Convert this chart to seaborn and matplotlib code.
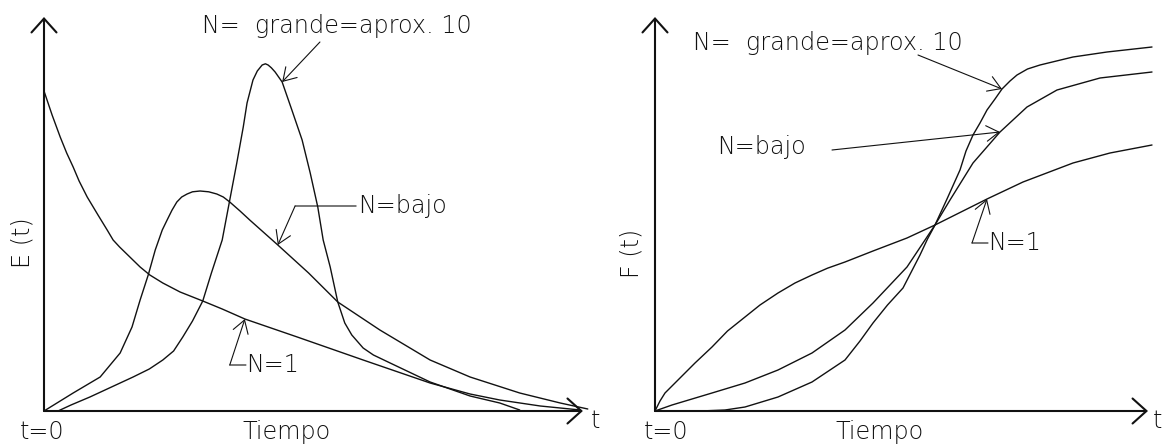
import numpy as np
import pandas as pd
import matplotlib
matplotlib.use("Agg")
import matplotlib.pyplot as plt
import seaborn as sns

# ---- Residence-time distribution curves (time in arbitrary units 0..10) ----
# E(t): exit-age distribution
e_n1_t = [0.00, 0.15, 0.30, 0.42, 0.54, 0.65, 0.80, 1.00, 1.17, 1.28, 1.40, 1.59, 1.78, 1.96, 2.20, 2.52, 2.94,
          3.30, 3.72, 4.69, 5.91, 7.15, 7.89, 8.44, 9.19, 9.93]
e_n1_v = [0.80, 0.74, 0.685, 0.645, 0.61, 0.575, 0.535, 0.49, 0.4525, 0.4275, 0.41, 0.385, 0.36, 0.34, 0.32,
          0.2975, 0.275, 0.255, 0.23, 0.185, 0.1275, 0.07, 0.0425, 0.0275, 0.0125, 0.0025]

e_bajo_t = [0.00, 0.54, 1.04, 1.41, 1.63, 1.78, 1.93, 2.06, 2.19, 2.28, 2.37, 2.46, 2.55, 2.65, 2.75, 2.89, 3.05,
            3.20, 3.32, 3.44, 3.63, 3.81, 4.33, 4.90, 5.44, 6.22, 7.15, 7.89, 8.81, 9.56, 10.07]
e_bajo_v = [0.00, 0.045, 0.085, 0.145, 0.21, 0.2775, 0.34, 0.4025, 0.4525, 0.4775, 0.502, 0.5225, 0.535, 0.5425,
            0.548, 0.55, 0.548, 0.5425, 0.535, 0.5225, 0.50, 0.4775, 0.415, 0.345, 0.2725, 0.2025, 0.1275,
            0.085, 0.045, 0.02, 0.005]

e_grande_t = [0.26, 0.50, 0.85, 1.25, 1.65, 1.95, 2.20, 2.40, 2.57, 2.75, 2.94, 3.10, 3.30, 3.44, 3.57, 3.69,
              3.76, 3.87, 3.95, 4.04, 4.10, 4.15, 4.21, 4.28, 4.41, 4.59, 4.78, 4.93, 5.07, 5.17, 5.30, 5.44,
              5.57, 5.70, 5.91, 6.10, 6.41, 7.15, 7.89, 8.44, 8.81]
e_grande_v = [0.00, 0.015, 0.035, 0.06, 0.085, 0.105, 0.1275, 0.15, 0.185, 0.225, 0.275, 0.345, 0.4275, 0.5275,
              0.62, 0.71, 0.77, 0.8275, 0.85, 0.865, 0.868, 0.865, 0.858, 0.8475, 0.8225, 0.7525, 0.6775, 0.595,
              0.51, 0.4275, 0.36, 0.2725, 0.22, 0.19, 0.1575, 0.14, 0.12, 0.0725, 0.0375, 0.02, 0.0025]

# F(t): cumulative distribution
f_n1_t = [0.00, 0.10, 0.20, 0.46, 0.80, 1.14, 1.45, 1.80, 2.10, 2.46, 2.80, 3.14, 3.45, 3.80, 4.36, 5.04, 5.60,
          6.16, 6.64, 7.36, 8.36, 9.10, 9.94]
f_n1_v = [0.00, 0.025, 0.045, 0.0775, 0.12, 0.16, 0.20, 0.235, 0.265, 0.295, 0.32, 0.34, 0.357, 0.3725, 0.40,
          0.4325, 0.465, 0.50, 0.53, 0.5725, 0.62, 0.645, 0.665]

f_bajo_t = [0.00, 0.34, 1.14, 1.80, 2.46, 3.14, 3.80, 4.36, 5.04, 5.60, 5.90, 6.36, 6.90, 7.44, 8.04, 8.90, 9.94]
f_bajo_v = [0.00, 0.015, 0.045, 0.07, 0.1025, 0.145, 0.2025, 0.27, 0.36, 0.465, 0.5275, 0.62, 0.6975, 0.76,
            0.8025, 0.8325, 0.8475]

f_grande_t = [0.00, 0.90, 1.40, 1.80, 2.46, 3.14, 3.80, 4.10, 4.36, 4.65, 4.96, 5.30, 5.45, 5.60, 5.84, 6.10,
              6.22, 6.36, 6.50, 6.64, 6.80, 6.94, 7.10, 7.24, 7.45, 7.70, 8.36, 9.04, 9.94]
f_grande_v = [0.00, 0.00, 0.0025, 0.01, 0.035, 0.0725, 0.1275, 0.175, 0.22, 0.265, 0.3075, 0.39, 0.43, 0.465,
              0.53, 0.6025, 0.65, 0.69, 0.72, 0.7525, 0.78, 0.805, 0.825, 0.84, 0.855, 0.865, 0.885, 0.8975, 0.91]

series_names = ["N=1", "N=bajo", "N=grande"]
label_grande = "N=  grande=aprox. 10"
label_bajo = "N=bajo"
label_n1 = "N=1"
x_label = "Tiempo"
origin_label = "t=0"
axis_end_label = "t"
e_label = "E (t)"
f_label = "F (t)"


def long_frame(curves):
    rows = []
    for name, (ts, vs) in zip(series_names, curves):
        for t, v in zip(ts, vs):
            rows.append({"serie": name, "t": t, "valor": v})
    return pd.DataFrame(rows)


df_e = long_frame([(e_n1_t, e_n1_v), (e_bajo_t, e_bajo_v), (e_grande_t, e_grande_v)])
df_f = long_frame([(f_n1_t, f_n1_v), (f_bajo_t, f_bajo_v), (f_grande_t, f_grande_v)])

sns.set_style("white")
plt.rcParams["font.family"] = ["DejaVu Sans"]

W, H = 1162, 444
fig = plt.figure(figsize=(W / 100, H / 100), dpi=100)
fig.patch.set_facecolor("white")

ink = "#111111"
fs = 17.2
txt = dict(color=ink, fontsize=fs, clip_on=False, fontweight="light")
leader = dict(arrowstyle="-", color=ink, lw=0.8, shrinkA=0, shrinkB=0)
head = dict(arrowstyle="->,head_length=0.45,head_width=0.28", color=ink, lw=0.8,
            shrinkA=0, shrinkB=0, mutation_scale=20)
axis_arrow = dict(arrowstyle="->,head_length=0.5,head_width=0.45", color=ink, lw=1.5,
                  shrinkA=0, shrinkB=0, mutation_scale=20)


def make_axes(left_px, width_px):
    ax = fig.add_axes([left_px / W, (H - 411) / H, width_px / W, 400 / H])
    ax.set_xlim(0, 10)
    ax.set_ylim(0, 1)
    ax.set_axis_off()
    return ax


def draw_panel(ax, df, y_end, x_end, tick_t, origin_t, ylab, ylab_pos):
    sns.lineplot(data=df, x="t", y="valor", hue="serie", units="serie", estimator=None,
                 sort=False, palette={n: ink for n in series_names}, legend=False,
                 linewidth=1.0, ax=ax)
    for ln in ax.lines:
        ln.set_clip_on(False)
        ln.set_solid_joinstyle("round")
    # axes with arrowheads
    ax.annotate("", xy=(0, y_end), xytext=(0, 0), arrowprops=axis_arrow, annotation_clip=False)
    ax.annotate("", xy=(x_end, 0), xytext=(0, 0), arrowprops=axis_arrow, annotation_clip=False)
    ax.text(tick_t, -0.025, axis_end_label, ha="left", va="center", **txt)
    ax.text(origin_t, -0.0525, origin_label, ha="center", va="center", **txt)
    ax.text(4.5, -0.0525, x_label, ha="center", va="center", **txt)
    ax.text(ylab_pos[0], ylab_pos[1], ylab, rotation=90, ha="center", va="center", **txt)


# ---- left panel: E(t) ----
axL = make_axes(44, 540)
draw_panel(axL, df_e, 0.985, 9.98, 10.12, -0.04, e_label, (-0.40, 0.42))

axL.text(2.93, 0.945, label_grande, ha="left", va="baseline", **txt)
axL.annotate("", xy=(e_grande_t[24], e_grande_v[24]), xytext=(5.11, 0.9225),
             arrowprops=head, annotation_clip=False)

axL.text(5.81, 0.5125, label_bajo, ha="left", va="center", **txt)
axL.annotate("", xy=(4.65, 0.5125), xytext=(5.78, 0.5125), arrowprops=leader, annotation_clip=False)
axL.annotate("", xy=(e_bajo_t[22], e_bajo_v[22]), xytext=(4.65, 0.5125),
             arrowprops=head, annotation_clip=False)

axL.text(3.74, 0.115, label_n1, ha="left", va="center", **txt)
axL.annotate("", xy=(3.44, 0.115), xytext=(3.74, 0.115), arrowprops=leader, annotation_clip=False)
axL.annotate("", xy=(e_n1_t[18], e_n1_v[18]), xytext=(3.44, 0.115),
             arrowprops=head, annotation_clip=False)

# ---- right panel: F(t) ----
axR = make_axes(655, 500)
draw_panel(axR, df_f, 0.985, 9.86, 9.95, 0.22, f_label, (-0.46, 0.395))

axR.text(0.76, 0.9025, label_grande, ha="left", va="baseline", **txt)
axR.annotate("", xy=(f_grande_t[21], f_grande_v[21]), xytext=(5.26, 0.89),
             arrowprops=head, annotation_clip=False)

axR.text(1.24, 0.66, label_bajo, ha="left", va="center", **txt)
axR.annotate("", xy=(f_bajo_t[12], f_bajo_v[12]), xytext=(3.54, 0.6525),
             arrowprops=head, annotation_clip=False)

axR.text(6.66, 0.42, label_n1, ha="left", va="center", **txt)
axR.annotate("", xy=(6.34, 0.42), xytext=(6.66, 0.42), arrowprops=leader, annotation_clip=False)
axR.annotate("", xy=(f_n1_t[18], f_n1_v[18]), xytext=(6.34, 0.42),
             arrowprops=head, annotation_clip=False)

fig.savefig("out.png", dpi=100, facecolor="white")
